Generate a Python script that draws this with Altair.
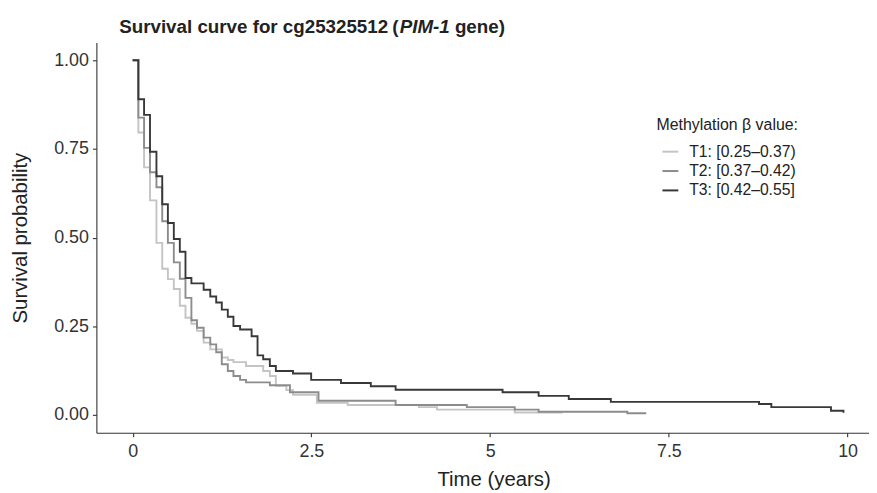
import altair as alt
import pandas as pd

# ---- data ----
groups = ["T1: [0.25–0.37)", "T2: [0.37–0.42)", "T3: [0.42–0.55]"]
colors = ["#c4c4c4", "#8c8c8c", "#383838"]

t1_time = [0, 0.08, 0.16, 0.243, 0.333, 0.414, 0.493, 0.576, 0.66, 0.739, 0.822, 0.9, 0.993, 1.086,
           1.247, 1.331, 1.41, 1.586, 1.826, 1.919, 2.003, 2.15, 2.243, 2.576, 3.007, 4.003, 4.257,
           5.344, 6.017]
t1_surv = [1.0, 0.796, 0.698, 0.605, 0.485, 0.412, 0.383, 0.355, 0.308, 0.274, 0.257, 0.237, 0.204,
           0.185, 0.162, 0.155, 0.149, 0.138, 0.124, 0.11, 0.082, 0.07, 0.057, 0.034, 0.028, 0.022,
           0.015, 0.007, 0.007]

t2_time = [0, 0.08, 0.16, 0.243, 0.333, 0.414, 0.493, 0.576, 0.66, 0.739, 0.822, 0.9, 0.993, 1.086,
           1.169, 1.247, 1.331, 1.41, 1.503, 1.586, 1.919, 2.2, 2.6, 3.678, 4.674, 5.344, 5.678,
           6.919, 7.183]
t2_surv = [1.0, 0.838, 0.753, 0.684, 0.642, 0.546, 0.485, 0.43, 0.384, 0.33, 0.267, 0.246, 0.218,
           0.199, 0.177, 0.143, 0.124, 0.11, 0.099, 0.092, 0.084, 0.064, 0.04, 0.028, 0.022, 0.015,
           0.009, 0.005, 0.005]

t3_time = [0, 0.08, 0.16, 0.243, 0.333, 0.414, 0.493, 0.576, 0.66, 0.739, 0.822, 0.993, 1.086, 1.169,
           1.247, 1.331, 1.41, 1.503, 1.664, 1.747, 1.826, 1.919, 2.003, 2.243, 2.497, 2.914, 3.331,
           3.678, 5.174, 5.678, 6.1, 6.688, 8.761, 8.933, 9.767, 9.942]
t3_surv = [1.0, 0.89, 0.846, 0.742, 0.673, 0.594, 0.541, 0.496, 0.46, 0.386, 0.371, 0.353, 0.334,
           0.317, 0.297, 0.277, 0.251, 0.241, 0.222, 0.168, 0.157, 0.138, 0.124, 0.117, 0.099, 0.09,
           0.081, 0.071, 0.064, 0.054, 0.045, 0.037, 0.031, 0.022, 0.012, 0.006]

x_ticks = [0, 2.5, 5, 7.5, 10]
y_ticks = [0, 0.25, 0.5, 0.75, 1.0]

rows = []
for g, ts, ss in zip(groups, [t1_time, t2_time, t3_time], [t1_surv, t2_surv, t3_surv]):
    for i, (t, s) in enumerate(zip(ts, ss)):
        rows.append({"group": g, "time": t, "surv": s, "idx": i})
df = pd.DataFrame(rows)

FONT = "Liberation Sans"

lines = alt.Chart(df).mark_line(interpolate="step-after", strokeWidth=1.9).encode(
    x=alt.X("time:Q",
            scale=alt.Scale(domain=[-0.507, 10.299], nice=False, zero=False),
            axis=alt.Axis(values=x_ticks, labelExpr="'' + datum.value", title="Time (years)",
                          titleX=400, titleY=53, titleBaseline="alphabetic",
                          titleAnchor="start", titleAlign="center")),
    y=alt.Y("surv:Q",
            scale=alt.Scale(domain=[-0.05, 1.05], nice=False, zero=False),
            axis=alt.Axis(values=y_ticks, format=".2f", title="Survival probability",
                          titleX=-70, titleY=196.5, titleBaseline="alphabetic",
                          titleAlign="center", titleAngle=-90)),
    color=alt.Color("group:N",
                    scale=alt.Scale(domain=groups, range=colors),
                    legend=alt.Legend(title="Methylation β value:", orient="none",
                                      legendX=564, legendY=75,
                                      symbolType="stroke", symbolSize=256,
                                      symbolStrokeWidth=2, symbolOffset=5,
                                      labelOffset=10, rowPadding=2.5, titlePadding=10,
                                      labelFontSize=15.8, titleFontSize=16,
                                      labelFont=FONT, titleFont=FONT,
                                      titleFontWeight="normal", titleColor="#222",
                                      labelColor="#222")),
    detail="group:N",
    order=alt.Order("idx:Q"),
)

one = pd.DataFrame({"a": [0]})
title_style = dict(font=FONT, fontSize=18.9, fontWeight="bold", align="left",
                   baseline="alphabetic", color="#222")
t_a = alt.Chart(one).mark_text(text="Survival curve for cg25325512", **title_style).encode(
    x=alt.value(23), y=alt.value(-10))
t_p = alt.Chart(one).mark_text(text="(", **title_style).encode(
    x=alt.value(298), y=alt.value(-10))
t_b = alt.Chart(one).mark_text(text="PIM-1", fontStyle="italic", **title_style).encode(
    x=alt.value(305.5), y=alt.value(-10))
t_c = alt.Chart(one).mark_text(text="gene)", **title_style).encode(
    x=alt.value(361), y=alt.value(-10))

chart = alt.layer(lines, t_a, t_p, t_b, t_c).properties(
    width=778, height=393,
    autosize=alt.AutoSizeParams(type="none"),
    padding={"left": 89, "top": 33, "right": 0, "bottom": 58},
).configure_view(stroke=None).configure_axis(
    grid=False, domainColor="#333", tickColor="#333", domainWidth=1.1, tickWidth=1.1,
    tickSize=4, labelFontSize=18, labelFont=FONT, labelColor="#333", labelPadding=4,
    titleFont=FONT, titleFontSize=20.5, titleFontWeight="normal", titleColor="#222",
).configure_axisX(labelPadding=6)

chart.save("out.html", embed_options={"renderer": "svg", "actions": False})
